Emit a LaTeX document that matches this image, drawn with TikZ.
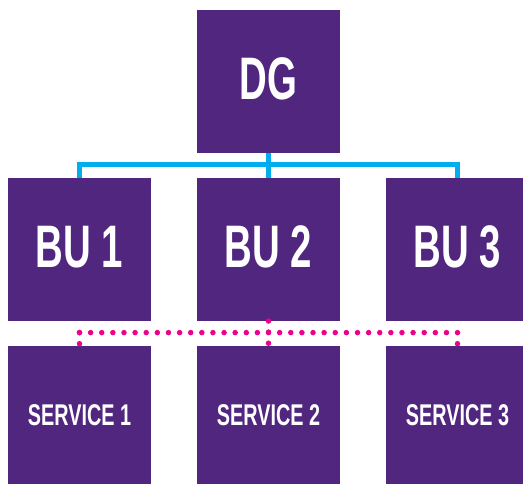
\documentclass[tikz,border=0pt]{standalone}
\usepackage{fontspec}
\usepackage{tikz}
\usetikzlibrary{positioning}
\newfontfamily\orgfont{Liberation Sans}[FakeStretch=0.64]
\newfontfamily\orgsmallfont{Liberation Sans}[FakeStretch=0.66]
\definecolor{orgpurple}{HTML}{51267F}
\definecolor{linkblue}{HTML}{00AEEF}
\definecolor{dotpink}{HTML}{EC008C}
\newcommand{\bs}{143pt}
\newcommand{\gap}{46pt}
\newcommand{\lift}[1]{\raisebox{2.5pt}[\height][\depth]{#1}}
\tikzset{
    bigblock/.style = {
        fill=orgpurple, rectangle, align=center,
        outer sep=0,
        inner sep=0,
        minimum width={\bs},
        minimum height={\bs},
        text=white,
        font=\orgfont\bfseries\fontsize{60}{60}\selectfont
    },
    smallblock/.style = {
        bigblock,
        font=\orgsmallfont\bfseries\fontsize{30}{30}\selectfont
    },
    bluelink/.style = {
        draw=linkblue, line width=5pt
    },
    pinkdots/.style = {
        draw=dotpink, line width=5.5pt, line cap=round,
        dash pattern=on 0pt off 11.12pt
    }
}
\begin{document}
\begin{tikzpicture}

\useasboundingbox (0,0) rectangle (523pt,-483pt);
\fill[white] (0,0) rectangle (523pt,-483pt);
\clip (0,0) rectangle (523pt,-483pt);

\node[bigblock](DG) at (268.5pt,-81.5pt){\lift{DG}};
\node[bigblock, below=25pt of DG](BU2){\lift{BU 2}};
\node[bigblock, left=\gap of BU2](BU1){\lift{BU 1}};
\node[bigblock, right=\gap of BU2](BU3){\lift{BU 3}};

\node[smallblock, below=25pt of BU1](S1){\lift{SERVICE 1}};
\node[smallblock, below=25pt of BU2](S2){\lift{SERVICE 2}};
\node[smallblock, below=25pt of BU3](S3){\lift{SERVICE 3}};

% blue links
\coordinate (BL) at ([yshift=13.5pt]BU1.north);
\coordinate (BR) at ([yshift=13.5pt]BU3.north);
\draw[bluelink] (DG.south) -- (BU2.north);
\draw[bluelink] (BU1.north) -- (BL) -- (BR) -- (BU3.north);

% pink dotted links
\coordinate (PL) at ([yshift=-11.6pt]BU1.south);
\coordinate (PR) at ([yshift=-11.6pt]BU3.south);
\draw[pinkdots] (PL) -- (PR);
\draw[pinkdots] (BU2.south) -- (S2.north);
\draw[pinkdots] (PL) -- (S1.north);
\draw[pinkdots] (PR) -- (S3.north);

\end{tikzpicture}
\end{document}
